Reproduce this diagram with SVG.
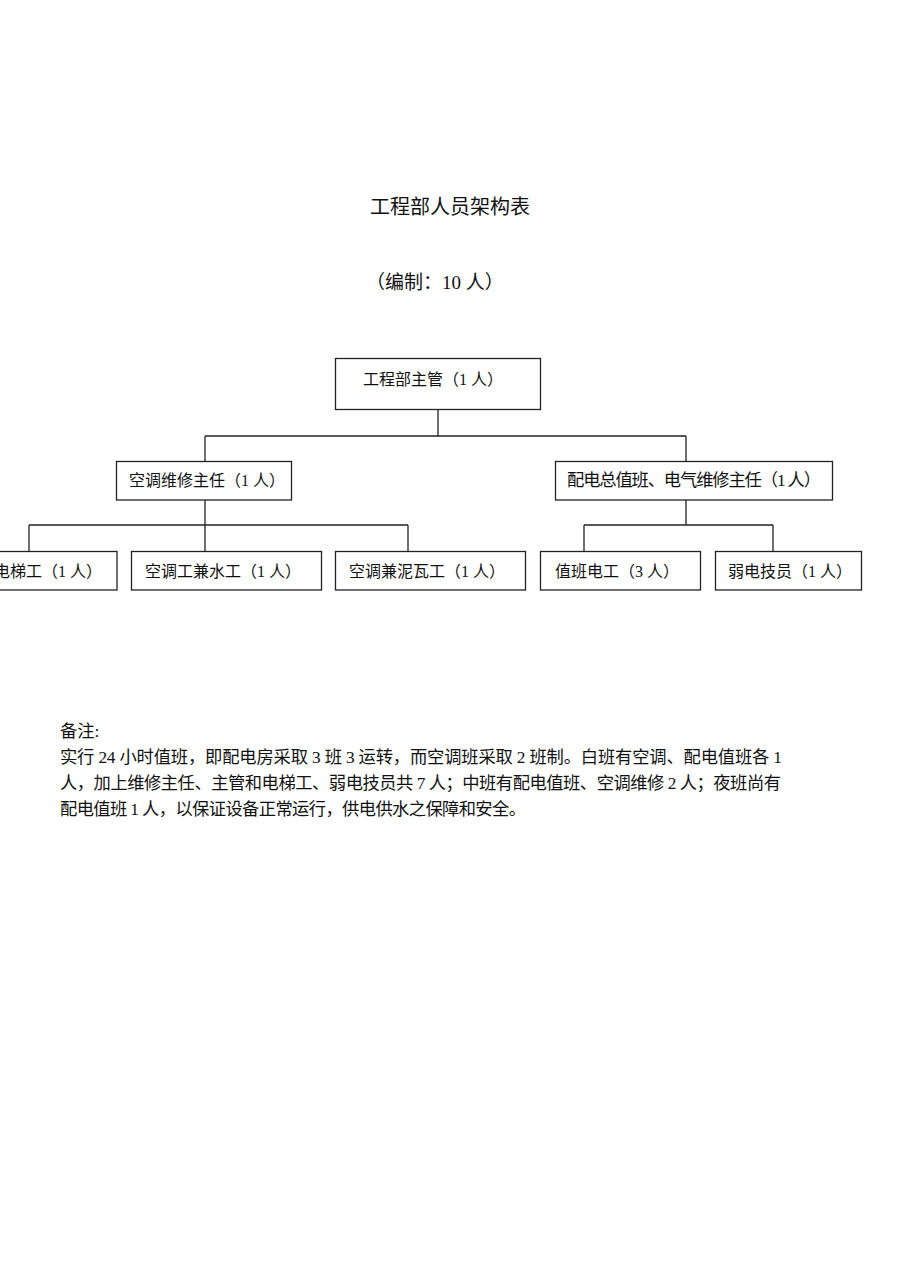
<svg xmlns="http://www.w3.org/2000/svg" width="920" height="1271" viewBox="0 0 920 1271">
<style>
text{font-family:"Liberation Serif","Noto Sans CJK SC",serif;fill:#111}
.t{font-size:16px}
.n{font-size:17.3px}
.box{fill:#fff;stroke:#222;stroke-width:1.3}
.ln{fill:none;stroke:#222;stroke-width:1.3}
</style>
<rect width="920" height="1271" fill="#fff"/>
<text x="370" y="214" style="font-size:20px">工程部人员架构表</text>
<text x="366" y="289" style="font-size:19px">（编制：10 人）</text>
<g id="connectors">
<path class="ln" d="M438 410V436M205 436H686M205 436V462M686 436V462"/>
<path class="ln" d="M205 500V525M29 525H408M29 525V551M205 525V551M408 525V551"/>
<path class="ln" d="M686 500V525M584 525H773M584 525V551M773 525V551"/>
</g>
<g id="n-manager"><rect class="box" x="335.5" y="358.5" width="205" height="51"/><text class="t" x="363" y="385">工程部主管（1 人）</text></g>
<g id="n-ac-lead"><rect class="box" x="116.5" y="461.5" width="175" height="38.5"/><text class="t" x="129" y="486">空调维修主任（1 人）</text></g>
<g id="n-elec-lead"><rect class="box" x="555.5" y="461.5" width="277" height="38.5"/><text class="n" x="567" y="486" textLength="254" lengthAdjust="spacing">配电总值班、电气维修主任（1 人）</text></g>
<g id="n-elevator"><rect class="box" x="-60" y="551.5" width="177" height="38.5"/><text class="t" x="-6" y="577">电梯工（1 人）</text></g>
<g id="n-ac-water"><rect class="box" x="131.5" y="551.5" width="190" height="38.5"/><text class="t" x="145" y="577">空调工兼水工（1 人）</text></g>
<g id="n-ac-mason"><rect class="box" x="335.5" y="551.5" width="190" height="38.5"/><text class="t" x="349" y="577">空调兼泥瓦工（1 人）</text></g>
<g id="n-duty-elec"><rect class="box" x="540.5" y="551.5" width="160" height="38.5"/><text class="t" x="555" y="577">值班电工（3 人）</text></g>
<g id="n-weak-elec"><rect class="box" x="715.5" y="551.5" width="146" height="38.5"/><text class="t" x="728" y="577">弱电技员（1 人）</text></g>
<g id="notes" class="n">
<text class="n" x="60" y="737">备注:</text>
<text class="n" x="60" y="763" textLength="722" lengthAdjust="spacing">实行 24 小时值班，即配电房采取 3 班 3 运转，而空调班采取 2 班制。白班有空调、配电值班各 1</text>
<text class="n" x="60" y="789" textLength="721" lengthAdjust="spacing">人，加上维修主任、主管和电梯工、弱电技员共 7 人；中班有配电值班、空调维修 2 人；夜班尚有</text>
<text class="n" x="60" y="815" textLength="466" lengthAdjust="spacing">配电值班 1 人，以保证设备正常运行，供电供水之保障和安全。</text>
</g>
</svg>
